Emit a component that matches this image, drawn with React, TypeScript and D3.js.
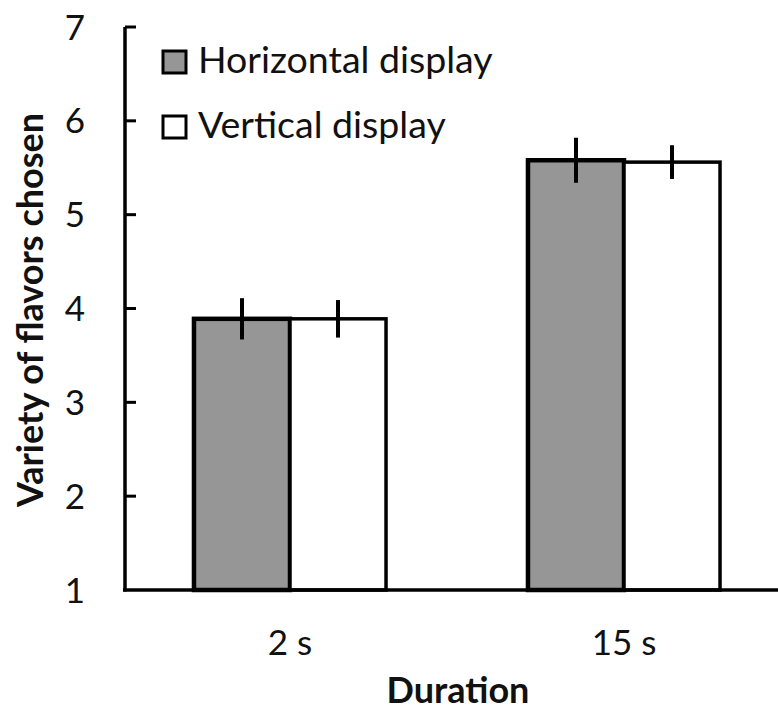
import React from "react";
import * as d3 from "d3";

const categories = ["2 s", "15 s"];
const seriesNames = ["Horizontal display", "Vertical display"];
const horizontalValues = [3.89, 5.58];
const horizontalErrors = [0.22, 0.24];
const verticalValues = [3.89, 5.56];
const verticalErrors = [0.2, 0.18];
const yTicks = [1, 2, 3, 4, 5, 6, 7];

const W = 778;
const H = 712;
const FONT = "Lato, 'Open Sans', sans-serif";

export default function App() {
  const y = d3.scaleLinear().domain([1, 7]).range([590, 27]);
  const x0 = d3
    .scaleBand<string>()
    .domain(categories)
    .range([123, 791])
    .paddingInner(0.425)
    .paddingOuter(0.2125);
  const x1 = d3.scaleBand<string>().domain(seriesNames).range([0, x0.bandwidth()]);
  const series = [
    { name: seriesNames[0], values: horizontalValues, errors: horizontalErrors, fill: "#969696", sw: 4.5 },
    { name: seriesNames[1], values: verticalValues, errors: verticalErrors, fill: "#ffffff", sw: 3.5 },
  ];
  const axisX = 125;

  return (
    <svg width={W} height={H} style={{ position: "absolute", left: 0, top: 0, background: "#fff" }}>
      {/* bars */}
      {categories.map((c, ci) => (
        <g key={c}>
          {series.map((s) => {
            const bx = (x0(c) as number) + (x1(s.name) as number);
            const bw = x1.bandwidth();
            const top = y(s.values[ci]);
            return (
              <rect key={s.name} x={bx} y={top} width={bw} height={y(1) - top} fill={s.fill} stroke="#000" strokeWidth={s.sw} />
            );
          })}
        </g>
      ))}
      {/* error bars */}
      {categories.map((c, ci) => (
        <g key={c + "e"}>
          {series.map((s) => {
            const cx = (x0(c) as number) + (x1(s.name) as number) + x1.bandwidth() / 2;
            return (
              <line key={s.name} x1={cx} x2={cx} y1={y(s.values[ci] + s.errors[ci])} y2={y(s.values[ci] - s.errors[ci])} stroke="#000" strokeWidth={4} />
            );
          })}
        </g>
      ))}
      {/* axes */}
      <line x1={axisX} x2={axisX} y1={y(7)} y2={y(1) + 1.5} stroke="#000" strokeWidth={3.5} />
      <line x1={axisX - 2} x2={W} y1={y(1)} y2={y(1)} stroke="#000" strokeWidth={3.5} />
      {yTicks.map((t) => (
        <g key={t}>
          {t > 1 && <line x1={axisX} x2={axisX + 11} y1={y(t)} y2={y(t)} stroke="#000" strokeWidth={3} />}
          <text x={75} y={y(t)} dy="0.36em" textAnchor="middle" fontFamily={FONT} fontSize={35} fill="#111">
            {t}
          </text>
        </g>
      ))}
      {categories.map((c) => (
        <text key={c} x={(x0(c) as number) + x0.bandwidth() / 2} y={655} textAnchor="middle" fontFamily={FONT} fontSize={35} fill="#111">
          {c}
        </text>
      ))}
      <text x={458} y={703} textAnchor="middle" fontFamily={FONT} fontSize={36} fontWeight="bold" fill="#111">
        Duration
      </text>
      <text transform={`translate(43, 310) rotate(-90)`} textAnchor="middle" fontFamily={FONT} fontSize={36} fontWeight="bold" fill="#111">
        Variety of flavors chosen
      </text>
      {/* legend */}
      {series.map((s, i) => (
        <g key={s.name} transform={`translate(163, ${51 + i * 65})`}>
          <rect x={0} y={0} width={23} height={22} fill={s.fill} stroke="#000" strokeWidth={3} />
          <text x={35} y={22} fontFamily={FONT} fontSize={37.5} fill="#111">
            {s.name}
          </text>
        </g>
      ))}
    </svg>
  );
}
